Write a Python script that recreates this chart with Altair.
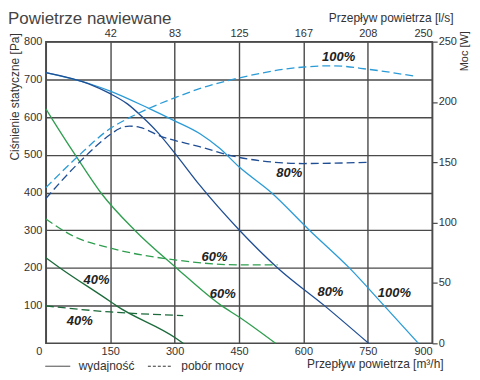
import altair as alt
import pandas as pd

SERIES = ["100%", "80%", "60%", "40%"]
COLORS = ["#2a9bd7", "#1f4e94", "#2e9e4f", "#1c6a3b"]
GRID = "#4a4a4a"
FONT = "Liberation Sans"

# Static pressure curves (wydajność): flow [m3/h] -> pressure [Pa]
Q_100 = [0, 100, 150, 240, 300, 360, 405, 450, 525, 614, 707, 788, 868]
P_100 = [718, 689, 669, 623, 590, 555, 517, 468, 400, 300, 200, 100, 0]
Q_80 = [0, 100, 150, 190, 225, 260, 304, 358, 451, 540, 649, 752]
P_80 = [718, 688, 662, 635, 600, 560, 499, 420, 300, 200, 100, 0]
Q_60 = [0, 13, 70, 129, 207, 304, 409, 451, 535]
P_60 = [622, 598, 497, 398, 300, 200, 100, 69, 0]
Q_40 = [0, 33, 150, 164, 304, 320]
P_40 = [227, 200, 111, 100, 13, 0]

# Power curves (pobór mocy): flow [m3/h] -> power [W]
QW_100 = [0, 75, 150, 195, 242, 304, 358, 451, 602, 668, 753, 865]
W_100 = [129, 155, 178, 187, 195, 204, 211, 220, 229, 230, 227, 221]
QW_80 = [0, 75, 150, 172, 195, 219, 265, 358, 451, 600, 753]
W_80 = [120, 149, 173, 178, 180, 179, 172, 163, 154, 149, 150]
QW_60 = [0, 63, 150, 304, 451, 540]
W_60 = [103, 89, 79, 69, 65, 65]
QW_40 = [0, 150, 320]
W_40 = [31, 26, 23]

# Curve labels (position in m3/h and Pa)
LABEL_TEXT = ["100%", "80%", "100%", "80%", "60%", "60%", "40%", "40%"]
LABEL_Q = [682, 567, 812, 663, 393, 412, 118, 79]
LABEL_P = [758, 451, 134, 137, 230, 132, 169, 58]

X_TICKS = [0, 150, 300, 450, 600, 750, 900]
TOP_LABELS = ["42", "83", "125", "167", "208", "250"]
Y_TICKS = [100, 200, 300, 400, 500, 600, 700, 800]
W_TICKS = [0, 50, 100, 150, 200, 250]
LEGEND = ["wydajność", "pobór mocy"]

rows_p = []
for s, qs, ps in zip(SERIES, [Q_100, Q_80, Q_60, Q_40], [P_100, P_80, P_60, P_40]):
    rows_p += [{"q": a, "p": b, "s": s} for a, b in zip(qs, ps)]
df_p = pd.DataFrame(rows_p)

rows_w = []
for s, qs, ws in zip(SERIES, [QW_100, QW_80, QW_60, QW_40], [W_100, W_80, W_60, W_40]):
    rows_w += [{"q": a, "w": b, "s": s} for a, b in zip(qs, ws)]
df_w = pd.DataFrame(rows_w)

df_lab = pd.DataFrame({"q": LABEL_Q, "p": LABEL_P, "t": LABEL_TEXT})

color = alt.Color("s:N", scale=alt.Scale(domain=SERIES, range=COLORS), legend=None)
xscale = alt.Scale(domain=[0, 900], nice=False, zero=False)

bottom_axis = alt.Axis(
    orient="bottom", values=X_TICKS, grid=True, gridColor=GRID, gridWidth=1.4,
    domain=False, ticks=False, labelPadding=2,
    labelAlign={"condition": {"test": "datum.value == 0 || datum.value == 900", "value": "right"}, "value": "center"},
    labelOffset={"condition": {"test": "datum.value == 0", "value": -4}, "value": 0},
    title="Przepływ powietrza [m³/h]", titleX=399, titleY=20, titleAlign="right",
    titleBaseline="middle", titleFontSize=12,
)
left_axis = alt.Axis(
    values=Y_TICKS, grid=True, gridColor=GRID, gridWidth=1.4, domain=False, ticks=False,
    labelPadding=4, title="Ciśnienie statyczne [Pa]", titleAngle=270, titleX=-31, titleY=-9,
    titleAlign="right", titleBaseline="middle", titleFontSize=12,
)
top_expr = " : ".join(f"datum.value == {v} ? '{t}'" for v, t in zip(X_TICKS[1:], TOP_LABELS)) + " : ''"
top_axis = alt.Axis(
    orient="top", values=X_TICKS[1:], grid=False, domain=False, ticks=False, labelPadding=3,
    labelExpr=top_expr,
    labelAlign={"condition": {"test": "datum.value == 900", "value": "right"}, "value": "center"},
    title="Przepływ powietrza [l/s]", titleX=409, titleY=-24, titleAlign="right",
    titleBaseline="middle", titleFontSize=12,
)
right_axis = alt.Axis(
    orient="right", values=W_TICKS, grid=False, domain=False, ticks=True, tickSize=5,
    tickColor=GRID, tickWidth=1.2, labelPadding=1, title="Moc [W]", titleAngle=270,
    titleX=32, titleY=-11, titleAlign="right", titleBaseline="middle", titleFontSize=11,
)

solid = alt.Chart(df_p).mark_line(strokeWidth=1.3, interpolate="monotone").encode(
    x=alt.X("q:Q", scale=xscale, axis=bottom_axis),
    y=alt.Y("p:Q", scale=alt.Scale(domain=[0, 800], nice=False), axis=left_axis),
    color=color,
)
labels = alt.Chart(df_lab).mark_text(
    font=FONT, fontSize=13, fontStyle="italic", fontWeight="bold", color="#222"
).encode(x="q:Q", y="p:Q", text="t:N")

legend_layer = alt.Chart(df_p).transform_calculate(typ="'wydajność'").transform_filter("false").mark_line().encode(
    x="q:Q", y="p:Q",
    strokeDash=alt.StrokeDash(
        "typ:N",
        scale=alt.Scale(domain=LEGEND, range=[[1, 0], [3, 2]]),
        legend=alt.Legend(
            orient="none", legendX=-1, legendY=313, direction="horizontal", title=None,
            symbolType="stroke", symbolSize=625, symbolStrokeColor="#333",
            symbolStrokeWidth=1, labelFontSize=12, labelFont=FONT, labelColor="#333",
            labelOffset=8, columnPadding=10, padding=0,
        ),
    ),
)

inner = alt.layer(solid, labels, legend_layer)

dashed = alt.Chart(df_w).mark_line(strokeWidth=1.3, strokeDash=[8, 4], interpolate="monotone").encode(
    x=alt.X("q:Q", scale=xscale, axis=top_axis),
    y=alt.Y("w:Q", scale=alt.Scale(domain=[0, 250], nice=False), axis=right_axis),
    color=color,
)

chart = alt.layer(inner, dashed).resolve_scale(
    x="independent", y="independent", strokeDash="independent"
).properties(
    width=388, height=303, autosize="none",
    padding={"left": 38, "top": 33, "right": 40, "bottom": 28},
    title=alt.TitleParams(
        "Powietrze nawiewane", anchor="start", frame="group", fontSize=17, font=FONT,
        fontWeight="normal", color="#444", dx=-38, offset=0, dy=16,
    ),
).configure_view(stroke=GRID, strokeWidth=1.5).configure_axis(
    labelFont=FONT, labelFontSize=11, labelColor="#333", titleFont=FONT,
    titleFontWeight="normal", titleColor="#333",
)

chart.save("out.html", embed_options={"renderer": "svg", "actions": False})
